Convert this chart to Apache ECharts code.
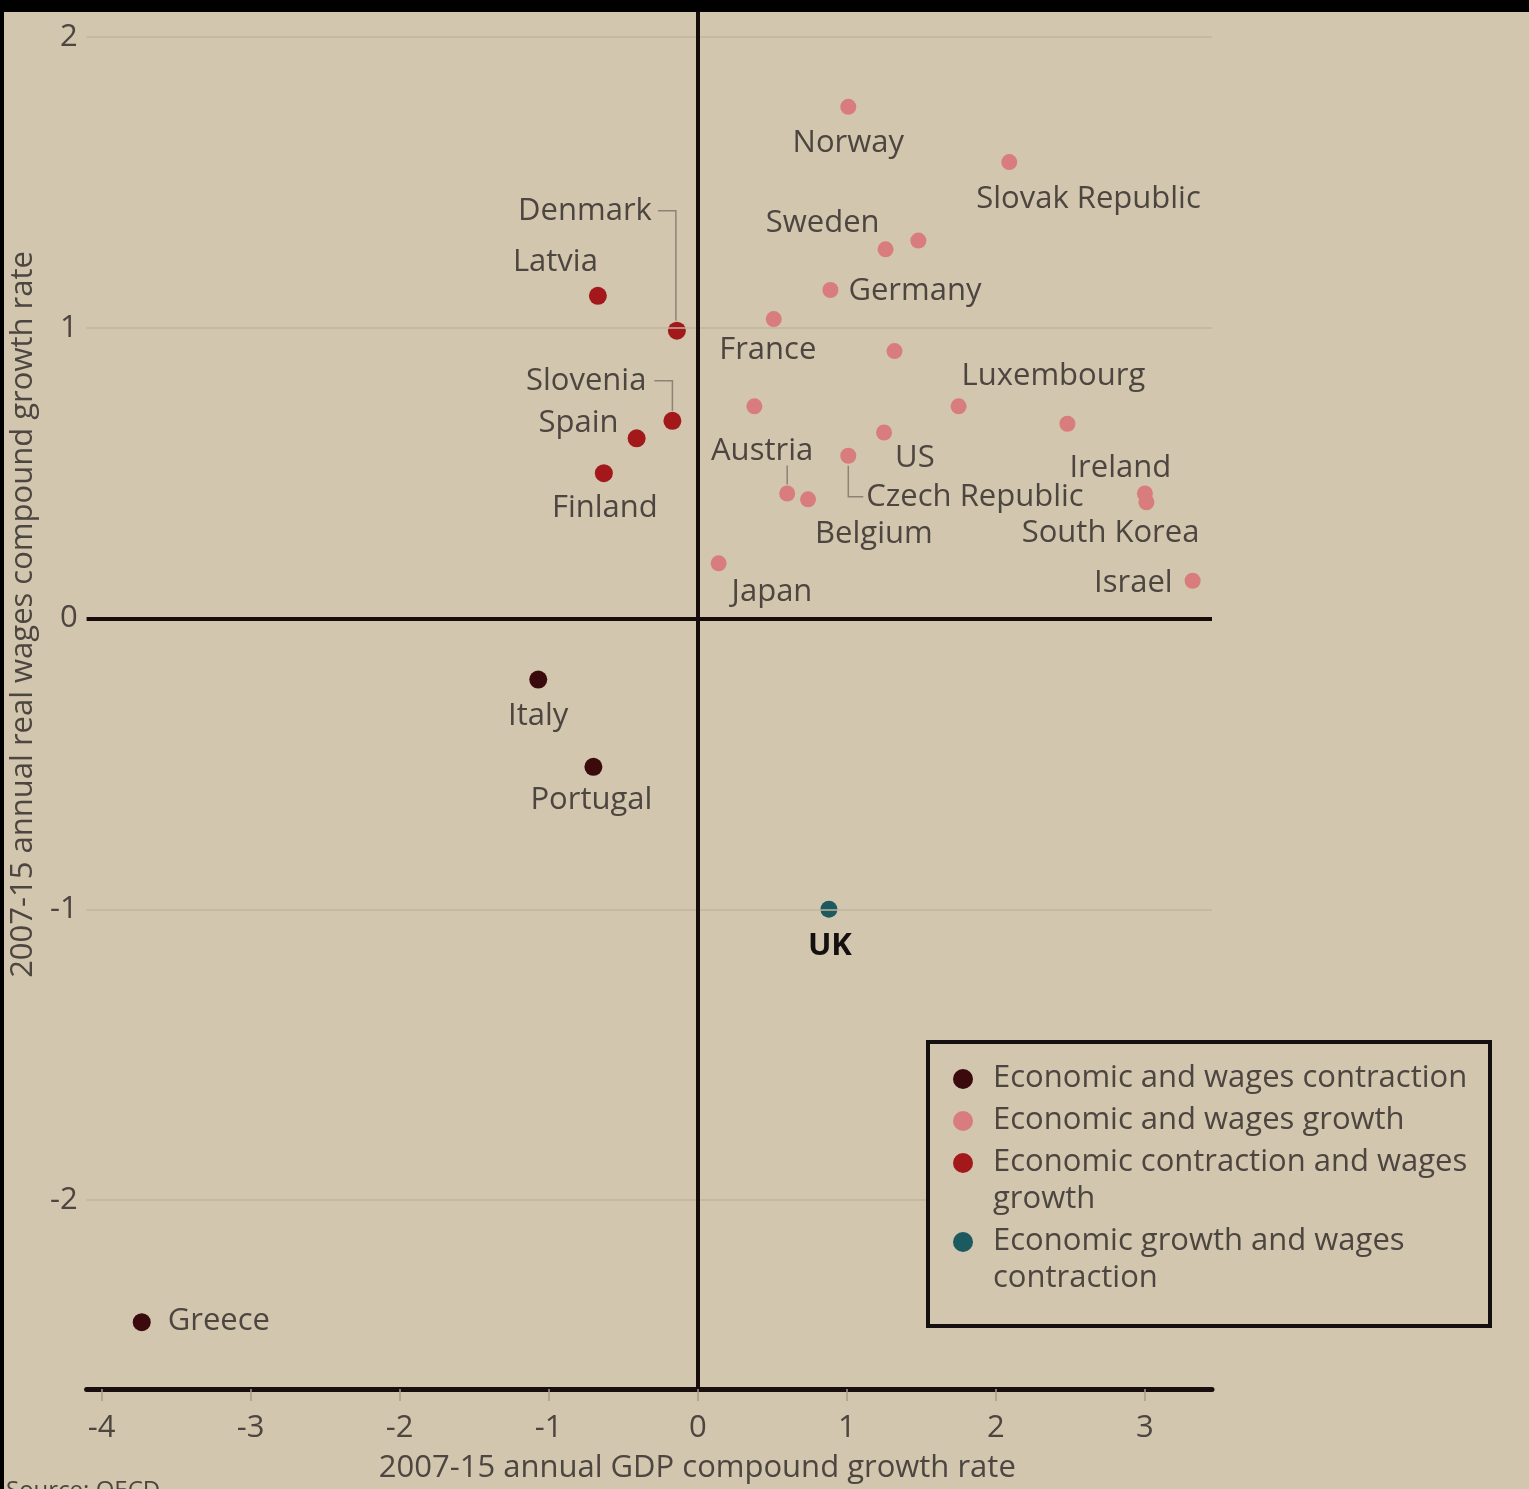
<!DOCTYPE html>
<html>
<head>
<meta charset="utf-8">
<script src="https://cdn.jsdelivr.net/npm/echarts@6/dist/echarts.min.js"></script>
<style>
    html, body { margin: 0; padding: 0; background: #d2c6ae; }
    #main { width: 1529px; height: 1489px; }
</style>
</head>
<body>
<div id="main"></div>
<script>
// 2007-15 GDP vs real wages, compound annual growth rates (%)
var countries = ['Norway', 'Slovak Republic', 'Sweden', '', 'Germany', 'France', '', 'Luxembourg', '',
    'Ireland', 'US', 'Czech Republic', 'Austria', 'Belgium', '', 'South Korea', 'Israel', 'Japan',
    'Latvia', 'Denmark', 'Slovenia', 'Spain', 'Finland',
    'Italy', 'Portugal', 'Greece',
    'UK'];
var gdpGrowth = [1.01, 2.09, 1.26, 1.48, 0.89, 0.51, 1.32, 1.75, 0.38,
    2.48, 1.25, 1.01, 0.60, 0.74, 3.00, 3.01, 3.32, 0.14,
    -0.67, -0.14, -0.17, -0.41, -0.63,
    -1.07, -0.70, -3.73,
    0.88];
var wageGrowth = [1.76, 1.57, 1.27, 1.30, 1.13, 1.03, 0.92, 0.73, 0.73,
    0.67, 0.64, 0.56, 0.43, 0.41, 0.43, 0.40, 0.13, 0.19,
    1.11, 0.99, 0.68, 0.62, 0.50,
    -0.21, -0.51, -2.42,
    -1.00];
// 0 contraction/contraction, 1 growth/growth, 2 econ contraction & wage growth, 3 econ growth & wage contraction
var groupOf = [1, 1, 1, 1, 1, 1, 1, 1, 1,
    1, 1, 1, 1, 1, 1, 1, 1, 1,
    2, 2, 2, 2, 2,
    0, 0, 0,
    3];
var groups = ['Economic and wages contraction', 'Economic and wages growth',
    'Economic contraction and wages growth', 'Economic growth and wages contraction'];
var legendLabels = ['Economic and wages contraction', 'Economic and wages growth',
    'Economic contraction and wages\ngrowth', 'Economic growth and wages\ncontraction'];
var xTicks = [-4, -3, -2, -1, 0, 1, 2, 3];
var yTicks = [-2, -1, 0, 1, 2];

var groupColors = ['#3a0a0c', '#d87c7e', '#a3191b', '#1c5a60'];
var groupSizes = [18, 16, 18, 17];
var textColor = '#4d4640';
var font = 'Open Sans';
var fs = 31;

// label placement: [align, dx, dy] from the point centre
var labelPlace = {
    'Norway': ['center', 0, 36],
    'Slovak Republic': ['left', -33, 37],
    'Sweden': ['right', -6, -26],
    'Germany': ['left', 18, 1],
    'France': ['center', -6, 31],
    'Luxembourg': ['left', 3, -30],
    'Ireland': ['left', 2, 44],
    'US': ['left', 11, 26],
    'Czech Republic': ['left', 18, 41],
    'Austria': ['right', 26, -42],
    'Belgium': ['left', 7, 35],
    'South Korea': ['right', 53, 31],
    'Israel': ['right', -20, 2],
    'Japan': ['left', 13, 29],
    'Latvia': ['right', 0, -34],
    'Denmark': ['right', -25, -120],
    'Slovenia': ['right', -26, -40],
    'Spain': ['right', -18, -15],
    'Finland': ['center', 1, 35],
    'Italy': ['center', 0, 37],
    'Portugal': ['center', -2, 33],
    'UK': ['center', 1, 37],
    'Greece': ['left', 26, -1]
};
// leader lines, pixel offsets from the point centre
var leaders = {
    'Denmark': [[-19, -120], [-1, -120], [-1, -10]],
    'Slovenia': [[-18, -40], [0, -40], [0, -10]],
    'Czech Republic': [[0, 10], [0, 41], [15, 41]],
    'Austria': [[0, -28], [0, -9]]
};

var myChart = echarts.init(document.getElementById('main'));

var series = groups.map(function (g, gi) {
    var data = [];
    countries.forEach(function (c, i) {
        if (groupOf[i] !== gi) return;
        var p = labelPlace[c];
        var item = { name: c, value: [gdpGrowth[i], wageGrowth[i]] };
        if (p) {
            item.label = {
                show: true, position: 'inside', align: p[0], verticalAlign: 'middle',
                offset: [p[1], p[2]]
            };
            if (c === 'UK') {
                item.label.fontWeight = 'bold';
                item.label.color = '#141010';
            }
        }
        data.push(item);
    });
    return {
        name: g,
        type: 'scatter',
        z: 3,
        symbolSize: groupSizes[gi],
        itemStyle: { color: groupColors[gi], opacity: 1 },
        label: {
            show: false, formatter: '{b}', color: textColor,
            fontSize: fs, fontFamily: font
        },
        emphasis: { disabled: true },
        data: data
    };
});

// grid lines and the two zero lines
series.unshift({
    type: 'scatter',
    z: 1,
    silent: true,
    data: [],
    markLine: {
        silent: true,
        symbol: 'none',
        label: { show: false },
        animation: false,
        data: yTicks.filter(function (v) { return v !== 0; }).map(function (v) {
            return { yAxis: v, lineStyle: { color: '#c1b49c', width: 1.5, type: 'solid' } };
        }).concat([
            { yAxis: 0, lineStyle: { color: '#160c0c', width: 4, type: 'solid' } },
            { xAxis: 0, lineStyle: { color: '#160c0c', width: 4, type: 'solid' } }
        ])
    }
});

myChart.setOption({
    backgroundColor: '#d2c6ae',
    animation: false,
    grid: { left: 86, right: 317, top: 8, bottom: 99 },
    xAxis: {
        type: 'value',
        min: -4.1,
        max: 3.45,
        name: '2007-15 annual GDP compound growth rate',
        nameLocation: 'middle',
        nameGap: 64,
        nameTextStyle: { color: textColor, fontSize: fs, fontFamily: font, padding: [0, 0, 0, 96] },
        axisLine: { show: true, onZero: false, lineStyle: { color: '#1a0f0f', width: 5 } },
        axisTick: { show: true, customValues: xTicks, length: 12, lineStyle: { color: '#a99d88', width: 1.5 } },
        axisLabel: { customValues: xTicks, margin: 24, color: textColor, fontSize: fs, fontFamily: font },
        splitLine: { show: false }
    },
    yAxis: {
        type: 'value',
        min: -2.65,
        max: 2.1,
        name: '2007-15 annual real wages compound growth rate',
        nameLocation: 'middle',
        nameGap: 34,
        nameTextStyle: { color: textColor, fontSize: fs, fontFamily: font, padding: [0, 0, 0, 168] },
        axisLine: { show: false },
        axisTick: { show: false, customValues: yTicks },
        axisLabel: { customValues: yTicks, margin: 9, color: textColor, fontSize: fs, fontFamily: font },
        splitLine: { show: false }
    },
    series: series
});

// extra drawing: frame bands, leader lines, legend box
var graphics = [
    { type: 'rect', z: 100, shape: { x: 0, y: 0, width: 1529, height: 12 }, style: { fill: '#000' } },
    { type: 'rect', z: 100, shape: { x: 0, y: 0, width: 4, height: 1489 }, style: { fill: '#000' } },
    {
        type: 'text', left: 6, top: 1479, z: 50,
        style: { text: 'Source: OECD', fill: textColor, font: '24px "Open Sans"' }
    }
];

countries.forEach(function (c, i) {
    var segs = leaders[c];
    if (!segs) return;
    var p = myChart.convertToPixel({ gridIndex: 0 }, [gdpGrowth[i], wageGrowth[i]]);
    graphics.push({
        type: 'polyline', z: 2, silent: true,
        shape: { points: segs.map(function (s) { return [p[0] + s[0], p[1] + s[1]]; }) },
        style: { stroke: '#8e8275', lineWidth: 1.5, fill: null }
    });
});

var legendChildren = [
    { type: 'rect', z: 20, shape: { x: 0, y: 0, width: 562, height: 284 }, style: { fill: '#d2c6ae', stroke: '#141010', lineWidth: 4 } }
];
var ly = 18;
legendLabels.forEach(function (t, gi) {
    var lines = t.split('\n').length;
    legendChildren.push({
        type: 'circle', z: 21, shape: { cx: 35, cy: ly + 19, r: 10 }, style: { fill: groupColors[gi] }
    });
    legendChildren.push({
        type: 'text', z: 21, x: 65, y: ly,
        style: { text: t, fill: textColor, font: fs + 'px "Open Sans"', lineHeight: 37, verticalAlign: 'top' }
    });
    ly += lines * 37 + 5;
});
graphics.push({ type: 'group', x: 928, y: 1042, z: 20, children: legendChildren });

myChart.setOption({ graphic: graphics });
</script>
</body>
</html>
